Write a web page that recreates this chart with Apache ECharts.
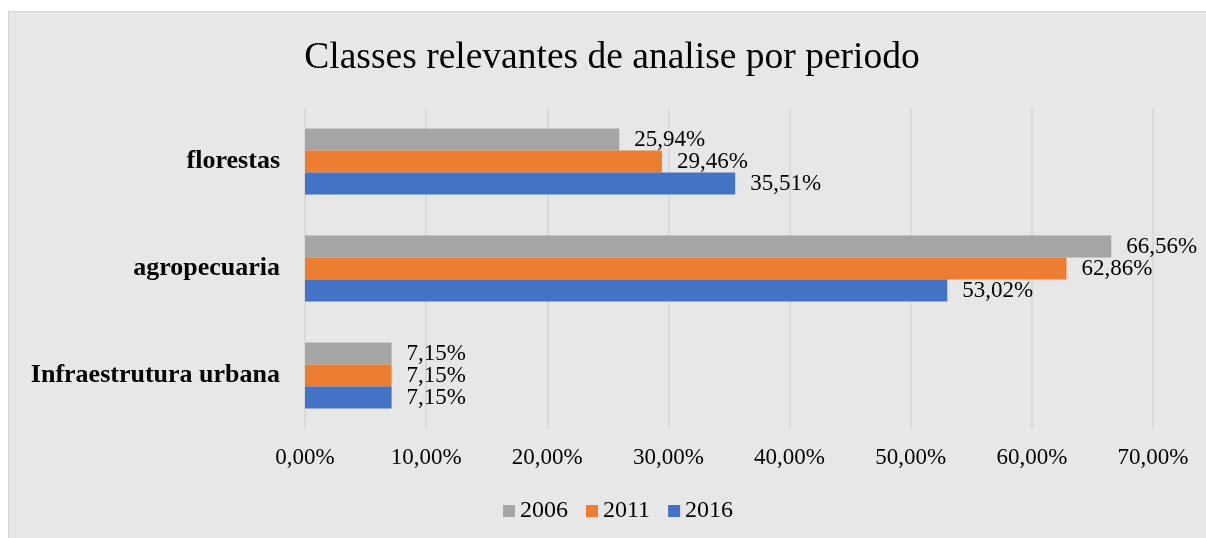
<!DOCTYPE html>
<html>
<head>
<meta charset="utf-8">
<script src="https://cdn.jsdelivr.net/npm/echarts@6/dist/echarts.min.js"></script>
<style>
html,body{margin:0;padding:0;background:#fff;width:1206px;height:538px;overflow:hidden;}
#wrap{position:absolute;left:8px;top:11px;width:1197px;height:526px;border-left:1px solid #d4d4d4;border-top:1px solid #d4d4d4;background:#e7e7e7;}
#c{width:1197px;height:526px;}
</style>
</head>
<body>
<div id="wrap"><div id="c"></div></div>
<script>
const categories = ['Infraestrutura urbana', 'agropecuaria', 'florestas'];
const seriesNames = ['2006', '2011', '2016'];
const values2006 = [7.15, 66.56, 25.94];
const values2011 = [7.15, 62.86, 29.46];
const values2016 = [7.15, 53.02, 35.51];
const colors = ['#a5a5a5', '#ed7d31', '#4472c4'];
const font = 'Liberation Serif';
const fmt = v => v.toFixed(2).replace('.', ',') + '%';

const chart = echarts.init(document.getElementById('c'));
const mk = (name, data, color) => ({
  name, type: 'bar', data, barWidth: 22, barGap: '0%',
  itemStyle: { color },
  label: { show: true, position: 'right', distance: 15, color: '#000',
    fontFamily: font, fontSize: 23, formatter: p => fmt(p.value) }
});
chart.setOption({
  animation: false,
  title: { text: 'Classes relevantes de analise por periodo', left: 598, top: 22,
    textAlign: 'center',
    textStyle: { fontFamily: font, fontSize: 37.5, fontWeight: 'normal', color: '#000' } },
  legend: { data: seriesNames, bottom: 10, left: 489, itemWidth: 12, itemHeight: 12,
    itemGap: 18, icon: 'rect',
    textStyle: { fontFamily: font, fontSize: 24, color: '#000' } },
  grid: { left: 296, right: 53, top: 96, height: 321, containLabel: false },
  xAxis: { type: 'value', min: 0, max: 70, interval: 10,
    axisLine: { show: false }, axisTick: { show: false },
    splitLine: { lineStyle: { color: '#d6d6d6', width: 1.5 } },
    axisLabel: { fontFamily: font, fontSize: 23, color: '#000', margin: 17, formatter: fmt } },
  yAxis: { type: 'category', data: categories,
    axisLine: { show: false }, axisTick: { show: false },
    axisLabel: { fontFamily: font, fontSize: 26, fontWeight: 'bold', color: '#000', margin: 25 } },
  series: [mk('2006', values2006, colors[0]), mk('2011', values2011, colors[1]), mk('2016', values2016, colors[2])]
});
</script>
</body>
</html>
